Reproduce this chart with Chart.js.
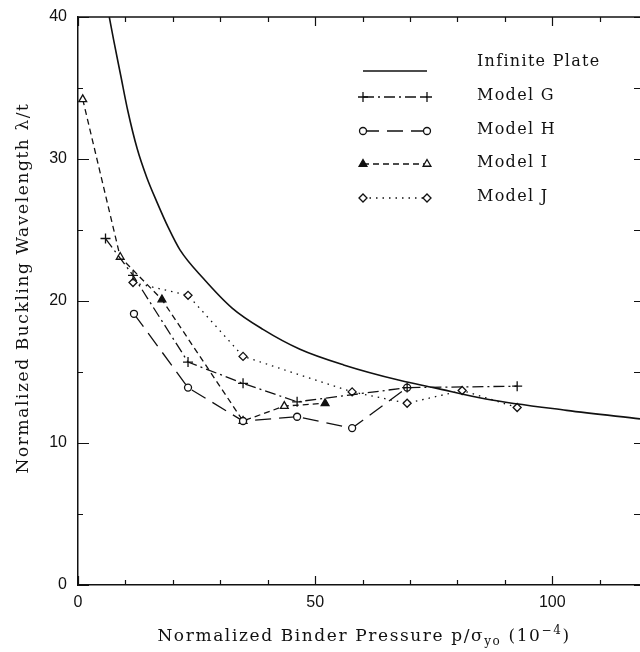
<!DOCTYPE html>
<html>
<head>
<meta charset="utf-8">
<script src="https://cdn.jsdelivr.net/npm/chart.js@4"></script>
<style>
  html, body { margin: 0; padding: 0; background: #fff; overflow: hidden; }
  #wrap { position: relative; width: 640px; height: 652px; }
</style>
</head>
<body>
<div id="wrap"><canvas id="chart"></canvas></div>
<script>
// Buckling wavelength vs binder pressure, infinite plate vs models G-J
const plateX = [6.6, 7.5, 9, 10.5, 12.5, 14.5, 16.6, 19, 21.5, 26.4, 32.5, 39, 46.8, 56, 68, 75, 86, 103, 118.5];
const plateY = [40, 38.4, 35.9, 33.4, 30.7, 28.7, 27.0, 25.2, 23.6, 21.6, 19.5, 18.0, 16.6, 15.5, 14.4, 13.9, 13.1, 12.3, 11.7];

const modelGX = [5.8, 11.6, 23.2, 34.8, 46.2, 69.4, 92.6];
const modelGY = [24.4, 21.8, 15.7, 14.2, 12.9, 13.9, 14.0];

const modelHX = [11.8, 23.2, 34.8, 46.2, 57.8, 69.4];
const modelHY = [19.1, 13.9, 11.55, 11.85, 11.05, 13.9];

const modelIX = [1, 8.9, 17.7, 34.8, 43.5, 52.1];
const modelIY = [34.2, 23.1, 20.1, 11.55, 12.6, 12.8];

const modelJX = [11.6, 23.2, 34.8, 57.8, 69.4, 81, 92.6];
const modelJY = [21.3, 20.4, 16.1, 13.6, 12.8, 13.7, 12.5];

const xTickLabels = [0, 50, 100];
const yTickLabels = [0, 10, 20, 30, 40];

const INK = '#111';
const SERIF = '"DejaVu Serif", serif';

function pts(xs, ys) {
    return xs.map((x, i) => ({ x: x, y: ys[i] }));
}

// legend entries (drawn by hand, the original has no box)
const legendItems = [
    { label: 'Infinite Plate', dash: [], marker: null },
    { label: 'Model G', dash: [11, 4, 2, 4], marker: { pointStyle: 'cross', radius: 5 } },
    { label: 'Model H', dash: [16, 8], marker: { pointStyle: 'circle', radius: 3.5 } },
    { label: 'Model I', dash: [6, 4], marker: { pointStyle: 'triangle', radius: 4.5 }, firstFilled: true },
    { label: 'Model J', dash: [1.5, 5], marker: { pointStyle: 'rectRot', radius: 4 } }
];

const framePlugin = {
    id: 'frame',
    afterDraw: function (chart) {
        const ctx = chart.ctx;
        const a = chart.chartArea;
        const xs = chart.scales.x;
        const ys = chart.scales.y;
        ctx.save();
        ctx.strokeStyle = INK;
        ctx.lineWidth = 1.5;
        ctx.setLineDash([]);
        // top line
        ctx.beginPath();
        ctx.moveTo(a.left, a.top);
        ctx.lineTo(a.right, a.top);
        ctx.stroke();

        ctx.lineWidth = 1.2;
        // inward ticks on x (bottom + top)
        for (let v = 0; v <= 110; v += 10) {
            const px = Math.round(xs.getPixelForValue(v)) + 0.5;
            const len = (v % 50 === 0) ? 9 : 5;
            ctx.beginPath();
            ctx.moveTo(px, a.bottom);
            ctx.lineTo(px, a.bottom - len);
            ctx.moveTo(px, a.top);
            ctx.lineTo(px, a.top + len);
            ctx.stroke();
        }
        // inward ticks on y (left + right)
        for (let v = 0; v <= 40; v += 5) {
            const py = Math.round(ys.getPixelForValue(v)) + 0.5;
            const len = (v % 10 === 0) ? 11 : 5;
            ctx.beginPath();
            ctx.moveTo(a.left, py);
            ctx.lineTo(a.left + len, py);
            ctx.moveTo(a.right, py);
            ctx.lineTo(a.right - 6, py);
            ctx.stroke();
        }

        // axis titles
        ctx.fillStyle = INK;
        ctx.textBaseline = 'alphabetic';
        ctx.letterSpacing = '1.6px';
        const big = '17px ' + SERIF;
        const small = '12px ' + SERIF;
        const parts = [
            { t: 'Normalized Binder Pressure p/\u03c3', f: big, dy: 0 },
            { t: 'yo', f: small, dy: 4 },
            { t: ' (10', f: big, dy: 0 },
            { t: '\u22124', f: small, dy: -7 },
            { t: ')', f: big, dy: 0 }
        ];
        let total = 0;
        parts.forEach(p => { ctx.font = p.f; p.w = ctx.measureText(p.t).width; total += p.w; });
        let x0 = 364 - total / 2;
        const base = 641;
        parts.forEach(p => {
            ctx.font = p.f;
            ctx.textAlign = 'left';
            ctx.fillText(p.t, x0, base + p.dy);
            x0 += p.w;
        });

        ctx.save();
        ctx.translate(28, 288);
        ctx.rotate(-Math.PI / 2);
        ctx.font = big;
        ctx.textAlign = 'center';
        ctx.fillText('Normalized Buckling Wavelength \u03bb/t', 0, 0);
        ctx.restore();

        // legend
        const lx0 = 363, lx1 = 427, tx = 477;
        const rows = [62, 96, 130, 163, 197];
        legendItems.forEach((item, i) => {
            const ty = rows[i];
            const ly = i === 0 ? ty + 9 : ty + 1;
            ctx.strokeStyle = INK;
            ctx.lineWidth = 1.3;
            ctx.setLineDash(item.dash);
            ctx.beginPath();
            ctx.moveTo(lx0, ly);
            ctx.lineTo(lx1, ly);
            ctx.stroke();
            ctx.setLineDash([]);
            if (item.marker) {
                [lx0, lx1].forEach((mx, k) => {
                    ctx.fillStyle = (item.firstFilled && k === 0) ? INK : '#fff';
                    ctx.strokeStyle = INK;
                    ctx.lineWidth = 1.3;
                    Chart.helpers.drawPoint(ctx, {
                        pointStyle: item.marker.pointStyle,
                        radius: item.marker.radius,
                        borderWidth: 1.3,
                        rotation: 0
                    }, mx, ly);
                });
            }
            ctx.fillStyle = INK;
            ctx.font = '16px ' + SERIF;
            ctx.letterSpacing = '1.3px';
            ctx.textAlign = 'left';
            ctx.textBaseline = 'middle';
            ctx.fillText(item.label, tx, ty);
        });
        ctx.restore();
    }
};

const canvas = document.getElementById('chart');

new Chart(canvas, {
    type: 'line',
    data: {
        datasets: [
            {
                label: 'Infinite Plate',
                data: pts(plateX, plateY),
                borderColor: INK,
                borderWidth: 1.6,
                pointRadius: 0,
                cubicInterpolationMode: 'monotone'
            },
            {
                label: 'Model G',
                data: pts(modelGX, modelGY),
                borderColor: INK,
                borderWidth: 1.3,
                borderDash: [11, 4, 2, 4],
                pointStyle: 'cross',
                pointRadius: 5,
                pointBorderWidth: 1.3,
                pointBorderColor: INK,
                tension: 0
            },
            {
                label: 'Model H',
                data: pts(modelHX, modelHY),
                borderColor: INK,
                borderWidth: 1.3,
                borderDash: [16, 8],
                pointStyle: 'circle',
                pointRadius: 3.5,
                pointBorderWidth: 1.3,
                pointBorderColor: INK,
                pointBackgroundColor: '#fff',
                tension: 0
            },
            {
                label: 'Model I',
                data: pts(modelIX, modelIY),
                borderColor: INK,
                borderWidth: 1.3,
                borderDash: [6, 4],
                pointStyle: 'triangle',
                pointRadius: 4.5,
                pointBorderWidth: 1.3,
                pointBorderColor: INK,
                pointBackgroundColor: ['#fff', '#fff', INK, INK, '#fff', INK],
                tension: 0
            },
            {
                label: 'Model J',
                data: pts(modelJX, modelJY),
                borderColor: INK,
                borderWidth: 1.3,
                borderDash: [1.5, 5],
                pointStyle: 'rectRot',
                pointRadius: 4,
                pointBorderWidth: 1.3,
                pointBorderColor: INK,
                pointBackgroundColor: '#fff',
                tension: 0
            }
        ]
    },
    options: {
        responsive: true,
        maintainAspectRatio: false,
        animation: false,
        layout: { autoPadding: false, padding: { top: 17, right: 0, left: 0, bottom: 0 } },
        plugins: {
            legend: { display: false },
            tooltip: { enabled: false }
        },
        scales: {
            x: {
                type: 'linear',
                min: 0,
                max: 118.5,
                afterFit: function (scale) {
                    scale.height = 67;
                    scale.paddingLeft = 0;
                    scale.paddingRight = 0;
                },
                afterBuildTicks: function (scale) {
                    scale.ticks = xTickLabels.map(v => ({ value: v }));
                },
                ticks: {
                    color: INK,
                    font: { family: '"Liberation Sans", Arial, sans-serif', size: 16 },
                    padding: 8,
                    maxRotation: 0,
                    autoSkip: false,
                    callback: function (value) { return String(value); }
                },
                grid: { display: false, drawTicks: false },
                border: { display: true, color: INK, width: 1.5 }
            },
            y: {
                type: 'linear',
                min: 0,
                max: 40,
                afterFit: function (scale) {
                    scale.width = 78;
                    scale.paddingTop = 0;
                    scale.paddingBottom = 0;
                },
                afterBuildTicks: function (scale) {
                    scale.ticks = yTickLabels.map(v => ({ value: v }));
                },
                ticks: {
                    color: INK,
                    font: { family: '"Liberation Sans", Arial, sans-serif', size: 16 },
                    padding: 11,
                    autoSkip: false,
                    callback: function (value) { return String(value); }
                },
                grid: { display: false, drawTicks: false },
                border: { display: true, color: INK, width: 1.5 }
            }
        }
    },
    plugins: [framePlugin]
});
</script>
</body>
</html>
